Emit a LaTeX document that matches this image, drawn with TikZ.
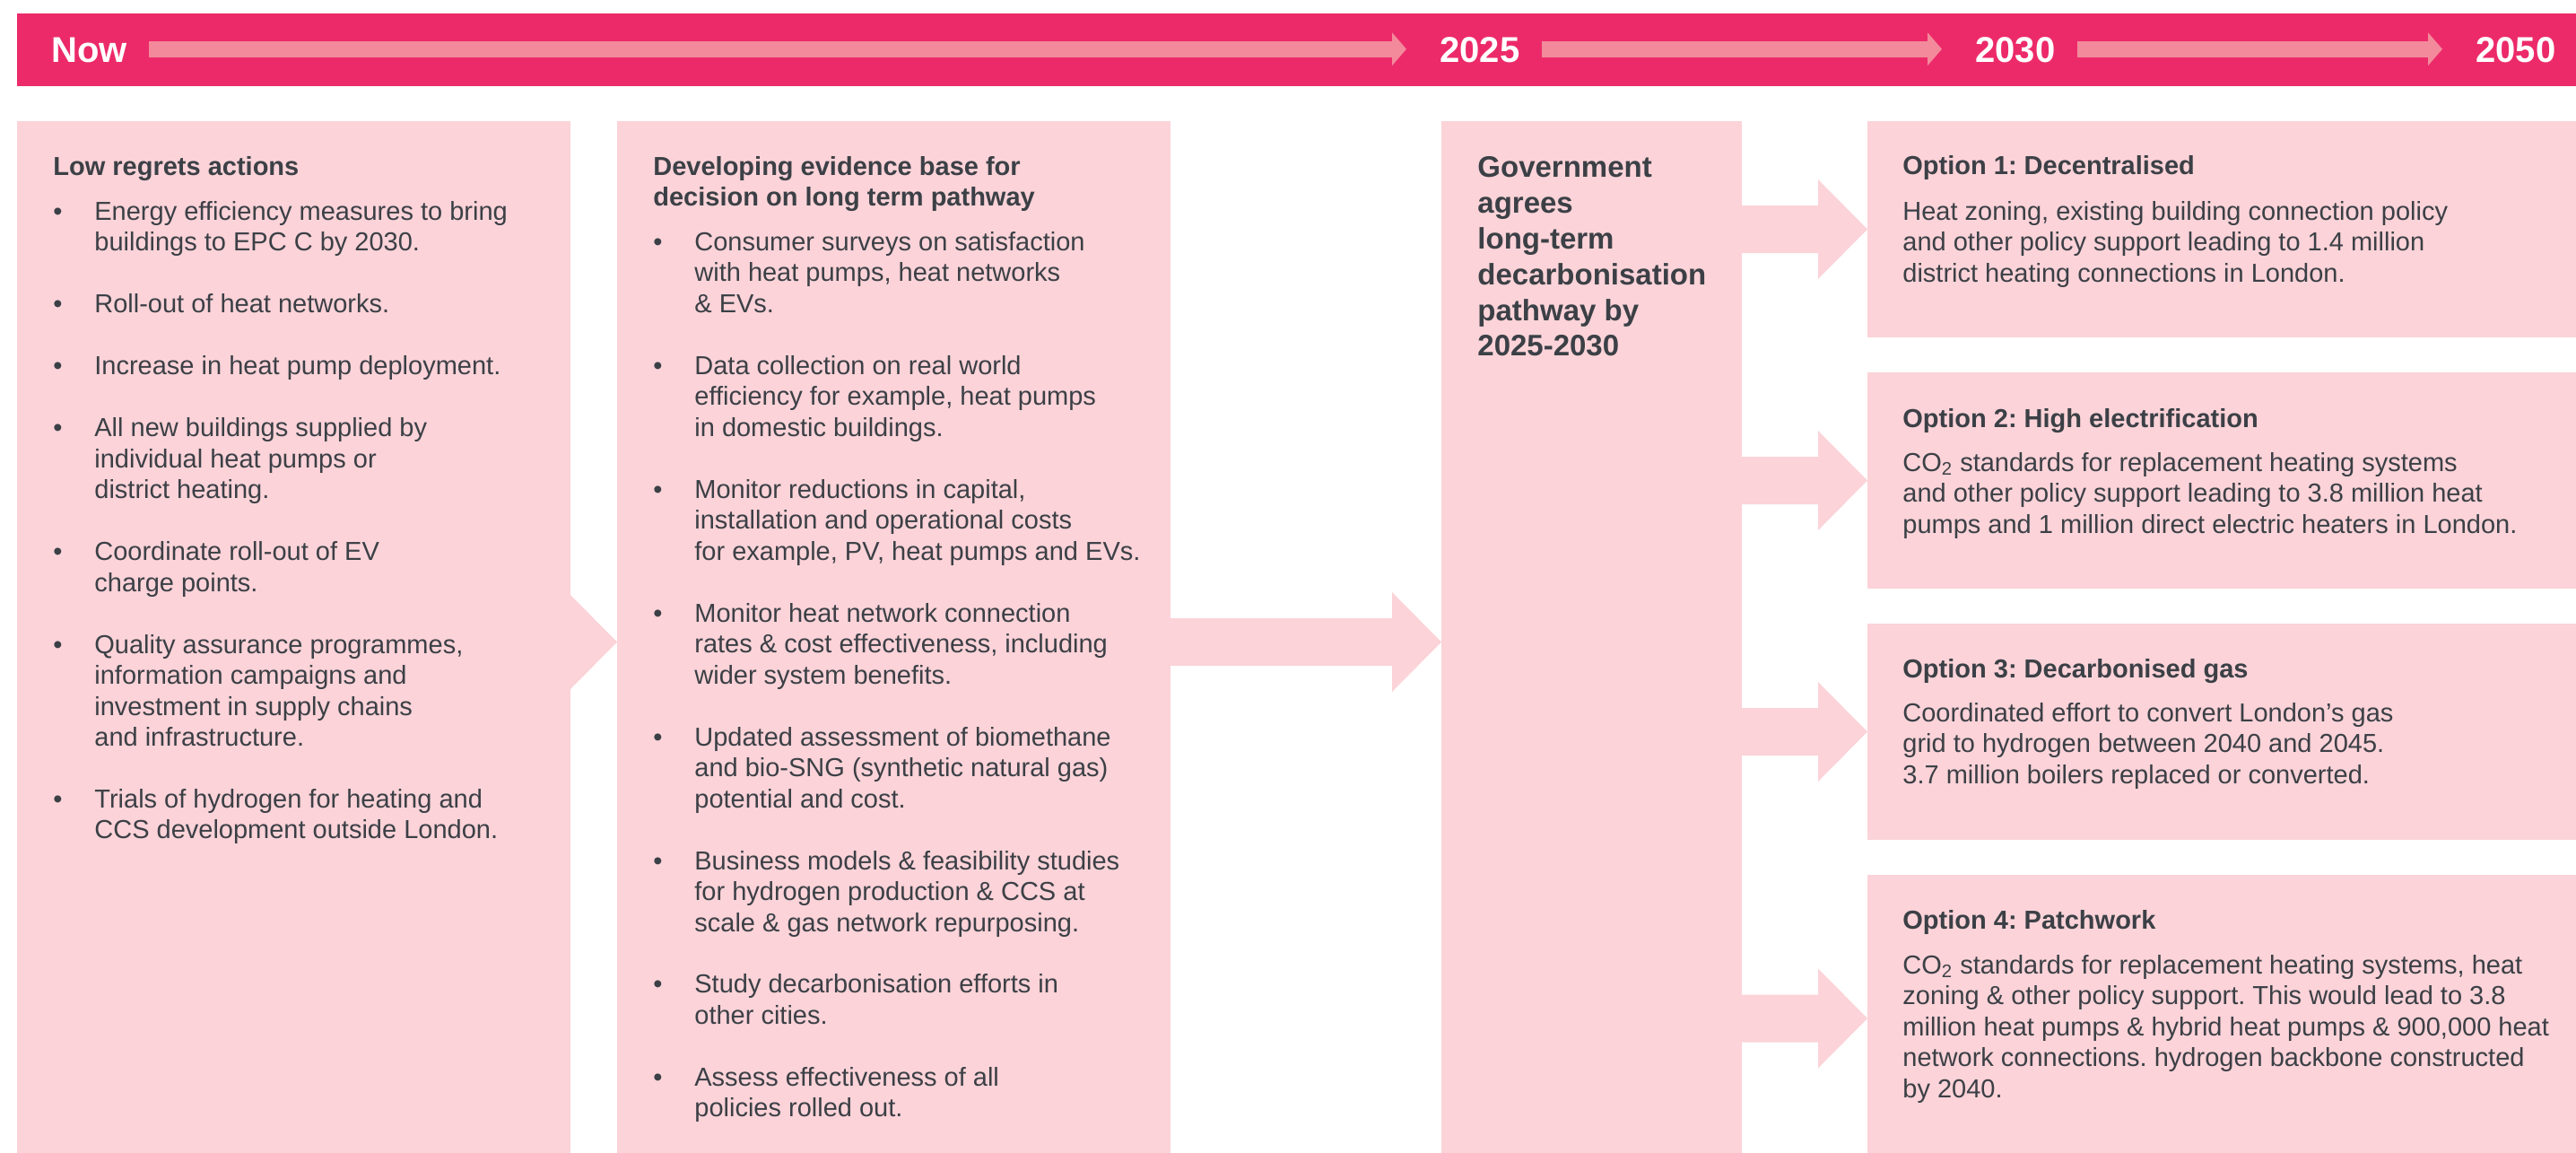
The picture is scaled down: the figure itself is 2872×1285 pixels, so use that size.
\documentclass[tikz,border=0pt]{standalone}
\usepackage{fontspec}
\setmainfont{Liberation Sans}
\usetikzlibrary{calc,arrows.meta}
\definecolor{bannerpink}{RGB}{236,42,106}
\definecolor{barpink}{RGB}{243,138,155}
\definecolor{boxpink}{RGB}{251,211,216}
\definecolor{ink}{RGB}{59,64,70}
% block arrow from one panel to the next: (from)(to)(vertical offset)
\def\blockarrow(#1)(#2)(#3){\fill[boxpink] ($(#1.east |- #2.west)+(0,#3-26.5)$) -- ($(#2.west)+(-55,#3-26.5)$) -- ($(#2.west)+(-55,#3-55.5)$) -- ($(#2.west)+(0,#3)$) -- ($(#2.west)+(-55,#3+55.5)$) -- ($(#2.west)+(-55,#3+26.5)$) -- ($(#1.east |- #2.west)+(0,#3+26.5)$) -- cycle;}

\begin{document}
\frenchspacing
\begin{tikzpicture}[x=0.5pt, y=-0.5pt,
	panel/.style={fill=boxpink, inner sep=0pt, outer sep=0pt, anchor=north west},
	yearlabel/.style={text=white, font=\fontsize{20}{24}\selectfont\bfseries, inner sep=0pt, anchor=base west, text height=14.3pt, text depth=0pt},
	timebar/.style={draw=barpink, line width=9pt, -{Triangle[length=8pt,width=18pt]}, shorten <=12pt, shorten >=18.5pt},
	headtext/.style={text=ink, font=\fontsize{14.5}{17.25}\selectfont\bfseries, inner sep=0pt, anchor=base west},
	bodytext/.style={text=ink, font=\fontsize{14.5}{17.25}\selectfont, inner sep=0pt, anchor=base west},
	govtext/.style={text=ink, font=\fontsize{16.5}{20}\selectfont\bfseries, inner sep=0pt, anchor=base west}]
			%%%%% START %%%%%
			\useasboundingbox (0,0) rectangle (2872,1285);
			
			% timeline
			\node[fill=bannerpink, inner sep=0pt, anchor=north west, minimum width=1426.5pt, minimum height=40.5pt] (banner) at (19,15) {};
			\node[yearlabel] (now) at (57,69) {Now};
			\node[yearlabel] (y2025) at (1605,69) {2025};
			\node[yearlabel] (y2030) at (2202,69) {2030};
			\node[yearlabel] (y2050) at (2760,69) {2050};
			\draw[timebar] (now) -- (y2025);
			\draw[timebar] (y2025) -- (y2030);
			\draw[timebar] (y2030) -- (y2050);
			
			% panels
			\node[panel, minimum width=308.5pt, minimum height=575pt] (low) at (19,135) {};
			\node[panel, minimum width=308.5pt, minimum height=575pt] (evid) at (688,135) {};
			\node[panel, minimum width=167.5pt, minimum height=575pt] (gov) at (1607,135) {};
			\node[panel, minimum width=395pt, minimum height=120.5pt] (opt1) at (2082,135) {};
			\node[panel, minimum width=395pt, minimum height=120.5pt] (opt2) at (2082,415) {};
			\node[panel, minimum width=395pt, minimum height=120.5pt] (opt3) at (2082,695) {};
			\node[panel, minimum width=395pt, minimum height=155pt] (opt4) at (2082,975) {};
			
			% arrows between panels
			\fill[boxpink] ($(low.east |- evid.west)+(0,5.5-52.5)$) -- ($(evid.west)+(0,5.5)$) -- ($(low.east |- evid.west)+(0,5.5+52.5)$) -- cycle;
			\blockarrow(evid)(gov)(5.5)
			\blockarrow(gov)(opt1)(0)
			\blockarrow(gov)(opt2)(0)
			\blockarrow(gov)(opt3)(0)
			\blockarrow(gov)(opt4)(5)
			
			% low regrets actions
			\node[headtext] (lowtitle) at (59,195) {Low regrets actions};
			\node[bodytext] (lowlist) at (59,245) {\begin{tabular}[t]{@{}p{23pt}@{}l@{}}
				\textbullet & Energy efficiency measures to bring\\
				& buildings to EPC C by 2030.\\[17.25pt]
				\textbullet & Roll-out of heat networks.\\[17.25pt]
				\textbullet & Increase in heat pump deployment.\\[17.25pt]
				\textbullet & All new buildings supplied by\\
				& individual heat pumps or\\
				& district heating.\\[17.25pt]
				\textbullet & Coordinate roll-out of EV\\
				& charge points.\\[17.25pt]
				\textbullet & Quality assurance programmes,\\
				& information campaigns and\\
				& investment in supply chains\\
				& and infrastructure.\\[17.25pt]
				\textbullet & Trials of hydrogen for heating and\\
				& CCS development outside London.
			\end{tabular}};
			
			% evidence base
			\node[headtext] (evidtitle) at (728,195) {\begin{tabular}[t]{@{}l@{}}Developing evidence base for\\decision on long term pathway\end{tabular}};
			\node[bodytext] (evidlist) at (728,279) {\begin{tabular}[t]{@{}p{23pt}@{}l@{}}
				\textbullet & Consumer surveys on satisfaction\\
				& with heat pumps, heat networks\\
				& \& EVs.\\[17.25pt]
				\textbullet & Data collection on real world\\
				& efficiency for example, heat pumps\\
				& in domestic buildings.\\[17.25pt]
				\textbullet & Monitor reductions in capital,\\
				& installation and operational costs\\
				& for example, PV, heat pumps and EVs.\\[17.25pt]
				\textbullet & Monitor heat network connection\\
				& rates \& cost effectiveness, including\\
				& wider system benefits.\\[17.25pt]
				\textbullet & Updated assessment of biomethane\\
				& and bio-SNG (synthetic natural gas)\\
				& potential and cost.\\[17.25pt]
				\textbullet & Business models \& feasibility studies\\
				& for hydrogen production \& CCS at\\
				& scale \& gas network repurposing.\\[17.25pt]
				\textbullet & Study decarbonisation efforts in\\
				& other cities.\\[17.25pt]
				\textbullet & Assess effectiveness of all\\
				& policies rolled out.
			\end{tabular}};
			
			% government decision
			\node[govtext] (govtitle) at (1647,197) {\begin{tabular}[t]{@{}l@{}}Government\\agrees\\long-term\\decarbonisation\\pathway by\\2025-2030\end{tabular}};
			
			% options
			\node[headtext] (opt1title) at (2121,194) {Option 1: Decentralised};
			\node[bodytext] (opt1body) at (2121,245) {\begin{tabular}[t]{@{}l@{}}Heat zoning, existing building connection policy\\and other policy support leading to 1.4 million\\district heating connections in London.\end{tabular}};
			
			\node[headtext] (opt2title) at (2121,476) {Option 2: High electrification};
			\node[bodytext] (opt2body) at (2121,525) {\begin{tabular}[t]{@{}l@{}}CO\textsubscript{2} standards for replacement heating systems\\and other policy support leading to 3.8 million heat\\pumps and 1 million direct electric heaters in London.\end{tabular}};
			
			\node[headtext] (opt3title) at (2121,755) {Option 3: Decarbonised gas};
			\node[bodytext] (opt3body) at (2121,804) {\begin{tabular}[t]{@{}l@{}}Coordinated effort to convert London’s gas\\grid to hydrogen between 2040 and 2045.\\3.7 million boilers replaced or converted.\end{tabular}};
			
			\node[headtext] (opt4title) at (2121,1035) {Option 4: Patchwork};
			\node[bodytext] (opt4body) at (2121,1085) {\begin{tabular}[t]{@{}l@{}}CO\textsubscript{2} standards for replacement heating systems, heat\\zoning \& other policy support. This would lead to 3.8\\million heat pumps \& hybrid heat pumps \& 900,000 heat\\network connections. hydrogen backbone constructed\\by 2040.\end{tabular}};
			
			%%%%% END %%%%%
\end{tikzpicture}
\end{document}
